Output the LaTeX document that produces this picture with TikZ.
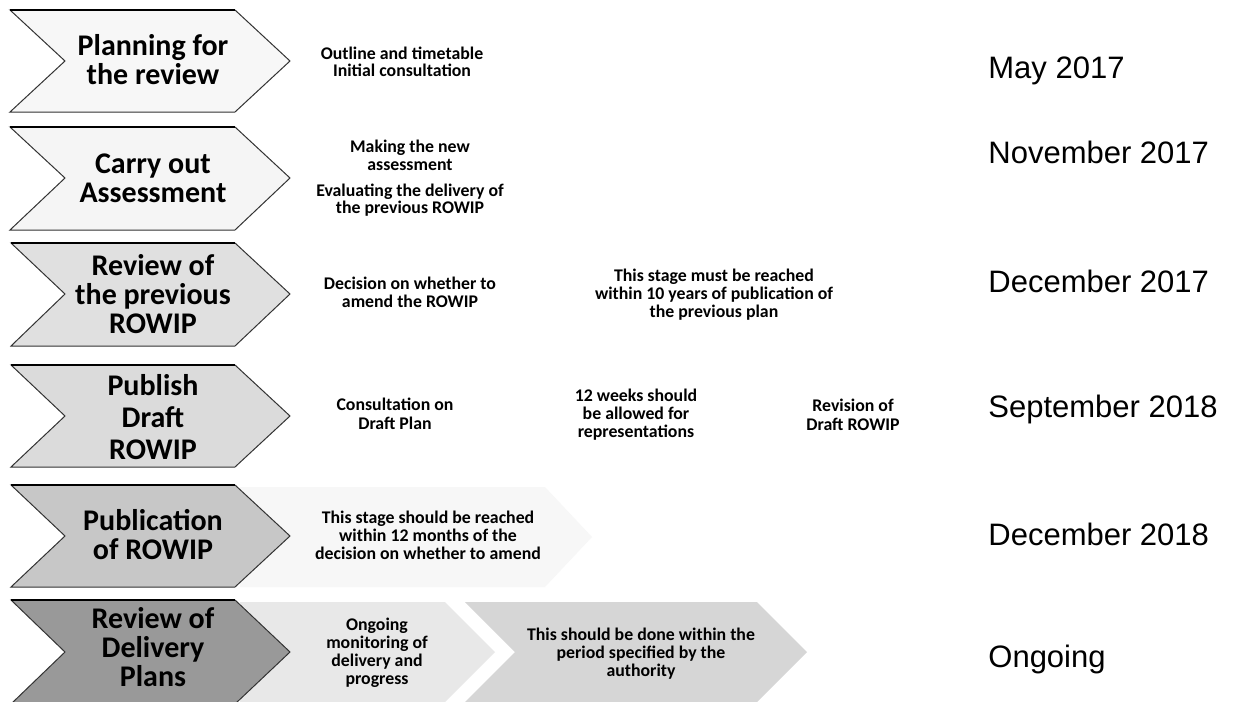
\documentclass[tikz,border=0pt]{standalone}
\usepackage{fontspec}
\setmainfont{Carlito}
\newfontfamily\datefont{Liberation Sans}
\begin{document}
\begin{tikzpicture}[x=0.5pt,y=-0.5pt,
    chev/.style={draw=black!80,line width=0.5pt},
    band/.style={draw=none},
    rim/.style={draw=black,line width=1.1pt},
    head/.style={align=center,inner sep=0pt,font=\fontsize{15}{14.5}\selectfont\bfseries},
    txt/.style={align=center,inner sep=0pt,font=\fontsize{8.9}{9}\selectfont\bfseries},
    when/.style={anchor=base west,inner sep=0pt,font=\datefont\fontsize{15.5}{18}\selectfont}]
\clip (0,0) rectangle (1233,702);
\fill[white] (0,0) rectangle (1233,702);

%stage 1
        \filldraw[chev,fill=black!3] (10,10) -- (235,10) -- (290,61) -- (235,112) -- (10,112) -- (65,61) -- cycle;
        \draw[rim] (10,10) -- (235,10);
        \node[head] (s1) at (153,60) {Planning for\\the review};
        \node[txt] (n1) at (402,62) {Outline and timetable\\[-0.6pt]Initial consultation};
        \node[when] (t1) at (988,78) {May 2017};

%stage 2
        \filldraw[chev,fill=black!4] (10,127) -- (235,127) -- (290,178) -- (235,230) -- (10,230) -- (65,178) -- cycle;
        \draw[rim] (10,127) -- (235,127);
        \node[head] (s2) at (153,178) {Carry out\\Assessment};
        \node[txt] (n2a) at (410,155) {Making the new\\assessment};
        \node[txt] (n2b) at (410,200) {Evaluating the delivery of\\[-0.4pt]the previous ROWIP};
        \node[when] (t2) at (988,163) {November 2017};

%stage 3
        \filldraw[chev,fill=black!12] (11,243) -- (235,243) -- (290,294) -- (235,346) -- (11,346) -- (65,294) -- cycle;
        \draw[rim] (11,243) -- (235,243);
        \node[head] (s3) at (153,294) {Review of\\the previous\\ROWIP};
        \node[txt] (n3a) at (410,292) {Decision on whether to\\amend the ROWIP};
        \node[txt] (n3b) at (714,295) {This stage must be reached\\within 10 years of publication of\\the previous plan};
        \node[when] (t3) at (988,292) {December 2017};

%stage 4
        \filldraw[chev,fill=black!14] (11,365) -- (235,365) -- (290,416) -- (235,467) -- (11,467) -- (65,416) -- cycle;
        \draw[rim] (11,365) -- (235,365);
        \node[head] (s4) at (153,417) {Publish\\[1.5pt]Draft\\[1.5pt]ROWIP};
        \node[txt] (n4a) at (395,414) {Consultation on\\[0.8pt]Draft Plan};
        \node[txt] (n4b) at (636,415) {12 weeks should\\be allowed for\\representations};
        \node[txt] (n4c) at (853,415) {Revision of\\[0.8pt]Draft ROWIP};
        \node[when] (t4) at (988,417) {September 2018};

%stage 5
        \fill[band,fill=black!3] (240,487) -- (545,487) -- (592,537) -- (545,587) -- (240,587) -- cycle;
        \filldraw[chev,fill=black!22] (11,485) -- (235,485) -- (290,536) -- (235,587) -- (11,587) -- (65,536) -- cycle;
        \draw[rim] (11,485) -- (235,485);
        \node[head] (s5) at (153,535) {Publication\\of ROWIP};
        \node[txt] (n5) at (428,535) {This stage should be reached\\within 12 months of the\\decision on whether to amend};
        \node[when] (t5) at (988,545) {December 2018};

%stage 6
        \fill[band,fill=black!9] (240,602) -- (445,602) -- (495,652) -- (445,702) -- (240,702) -- cycle;
        \fill[band,fill=black!16] (465,602) -- (757,602) -- (807,652) -- (757,702) -- (465,702) -- (515,652) -- cycle;
        \filldraw[chev,fill=black!40] (11,600) -- (235,600) -- (290,652) -- (235,704) -- (11,704) -- (65,652) -- cycle;
        \draw[rim] (11,600) -- (235,600);
        \node[head] (s6) at (153,647) {Review of\\Delivery\\Plans};
        \node[txt] (n6a) at (377,653) {Ongoing\\monitoring of\\delivery and\\progress};
        \node[txt] (n6b) at (641,654) {This should be done within the\\period specified by the\\authority};
        \node[when] (t6) at (988,667) {Ongoing};
\end{tikzpicture}
\end{document}
